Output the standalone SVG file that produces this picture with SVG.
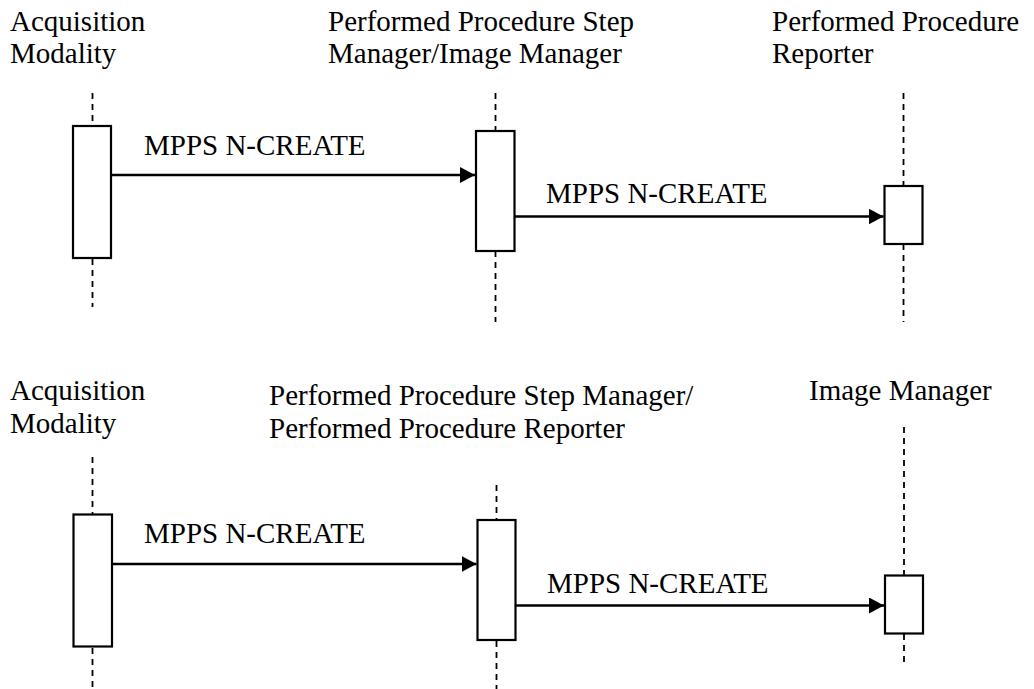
<svg xmlns="http://www.w3.org/2000/svg" width="1034" height="689" viewBox="0 0 1034 689">
<style>
text{font-family:"Liberation Serif","Times New Roman",serif;font-size:29px;fill:#000}
.lbl{font-size:29px}
.life{stroke:#000;stroke-width:1.8;stroke-dasharray:6 5;fill:none}
.act{fill:#fff;stroke:#000;stroke-width:2.2}
.msg{stroke:#000;stroke-width:2.4;fill:none;marker-end:url(#ah)}
</style>
<defs>
<marker id="ah" viewBox="0 0 15 16" refX="15" refY="8" markerWidth="15" markerHeight="16" markerUnits="userSpaceOnUse" orient="auto">
<path d="M0,0 L15,8 L0,16 Z" fill="#000"/>
</marker>
</defs>
<rect width="1034" height="689" fill="#fff"/>
<g id="top-acq">
<text x="10" y="31">Acquisition</text>
<text x="10" y="63">Modality</text>
<line class="life" x1="92.5" y1="93" x2="92.5" y2="126"/>
<line class="life" x1="92.5" y1="259" x2="92.5" y2="307"/>
<rect class="act" x="73" y="126" width="38" height="132"/>
</g>
<g id="top-ppsm">
<text x="328" y="31">Performed Procedure Step</text>
<text x="328" y="63">Manager/Image Manager</text>
<line class="life" x1="495.5" y1="93" x2="495.5" y2="131"/>
<line class="life" x1="495.5" y1="251" x2="495.5" y2="322"/>
<rect class="act" x="476" y="131" width="38.5" height="120"/>
</g>
<g id="top-ppr">
<text x="772" y="31">Performed Procedure</text>
<text x="772" y="63">Reporter</text>
<line class="life" x1="903.5" y1="93" x2="903.5" y2="186"/>
<line class="life" x1="903.5" y1="244" x2="903.5" y2="322"/>
<rect class="act" x="884.5" y="186" width="38" height="58"/>
</g>
<g id="bot-acq">
<text x="10" y="400">Acquisition</text>
<text x="10" y="433">Modality</text>
<line class="life" x1="92.5" y1="457" x2="92.5" y2="514"/>
<line class="life" x1="92.5" y1="648" x2="92.5" y2="689"/>
<rect class="act" x="73.5" y="514.5" width="38.5" height="132"/>
</g>
<g id="bot-ppsm">
<text x="269" y="405">Performed Procedure Step Manager/</text>
<text x="269" y="438">Performed Procedure Reporter</text>
<line class="life" x1="496.5" y1="485" x2="496.5" y2="520"/>
<line class="life" x1="496.5" y1="641" x2="496.5" y2="689"/>
<rect class="act" x="477.5" y="520" width="38" height="120"/>
</g>
<g id="bot-im">
<text x="809" y="400">Image Manager</text>
<line class="life" x1="904" y1="427" x2="904" y2="575"/>
<line class="life" x1="904" y1="634" x2="904" y2="666"/>
<rect class="act" x="885" y="575.5" width="38" height="58"/>
</g>
<g id="connectors">
<line class="msg" x1="112" y1="175" x2="475" y2="175"/>
<text class="lbl" x="144" y="155">MPPS N-CREATE</text>
<line class="msg" x1="515" y1="216.5" x2="883.5" y2="216.5"/>
<text class="lbl" x="546" y="203">MPPS N-CREATE</text>
<line class="msg" x1="113" y1="564" x2="476.5" y2="564"/>
<text class="lbl" x="144" y="543">MPPS N-CREATE</text>
<line class="msg" x1="516" y1="605.5" x2="884" y2="605.5"/>
<text class="lbl" x="547" y="593">MPPS N-CREATE</text>
</g>
</svg>
